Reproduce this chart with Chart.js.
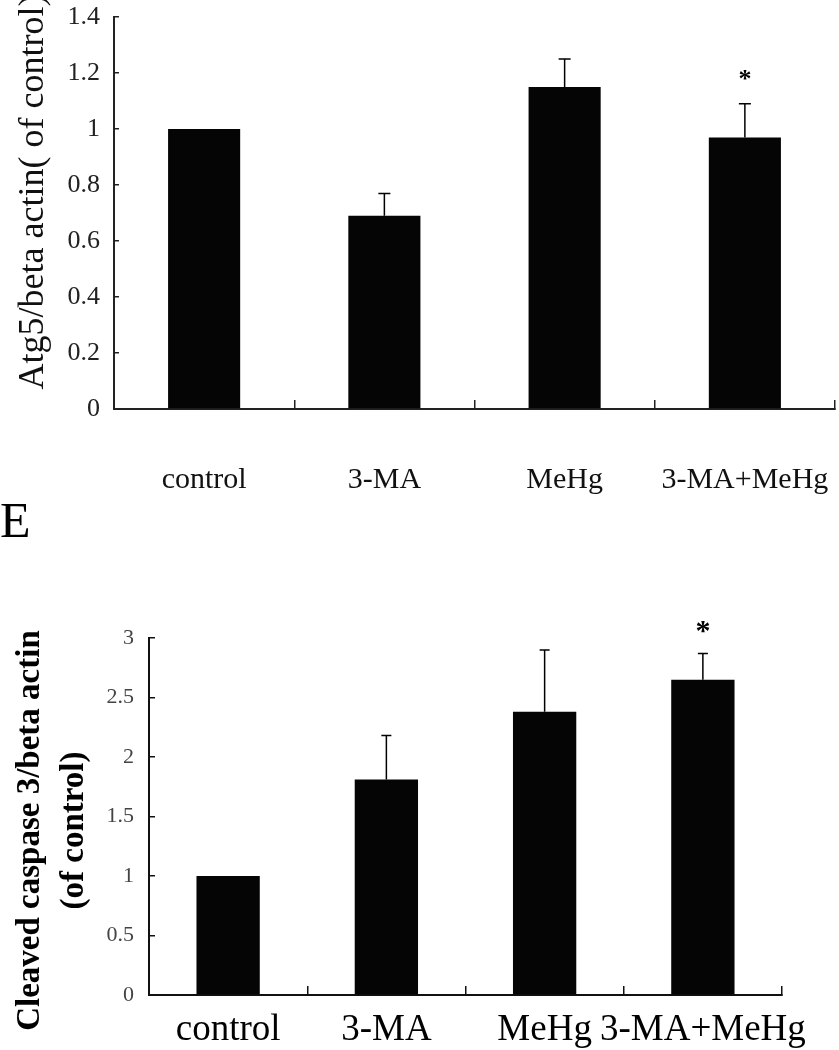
<!DOCTYPE html>
<html>
<head>
<meta charset="utf-8">
<script src="https://cdn.jsdelivr.net/npm/chart.js"></script>
<style>
    body { margin: 0; background: #fff; }
    canvas { position: absolute; left: 0; }
</style>
</head>
<body>
<canvas id="atg5" width="839" height="520" style="top: 0px;"></canvas>
<canvas id="casp3" width="839" height="560" style="top: 490px;"></canvas>
<script>
const groups = ['control', '3-MA', 'MeHg', '3-MA+MeHg'];

// Atg5 / beta actin
const atg5Mean = [1.0, 0.69, 1.15, 0.97];
const atg5Err = [0, 0.08, 0.10, 0.12];
const atg5Sig = ['', '', '', '*'];
const atg5Ticks = ['0', '0.2', '0.4', '0.6', '0.8', '1', '1.2', '1.4'];

// cleaved caspase 3 / beta actin
const casp3Mean = [1.0, 1.81, 2.38, 2.65];
const casp3Err = [0, 0.37, 0.52, 0.22];
const casp3Sig = ['', '', '', '*'];
const casp3Ticks = ['0', '0.5', '1', '1.5', '2', '2.5', '3'];

const serif = "'Liberation Serif', 'Times New Roman', serif";

// upward error bars + significance marks
const errorBars = {
    id: 'errorBars',
    afterDatasetsDraw(chart, args, opts) {
        const ctx = chart.ctx;
        const y = chart.scales.y;
        const values = chart.data.datasets[0].data;
        ctx.save();
        ctx.strokeStyle = '#000';
        ctx.fillStyle = '#000';
        ctx.lineWidth = opts.width;
        chart.getDatasetMeta(0).data.forEach((bar, i) => {
            let top = y.getPixelForValue(values[i]);
            if (opts.errors[i]) {
                top = y.getPixelForValue(values[i] + opts.errors[i]);
                ctx.beginPath();
                ctx.moveTo(bar.x, bar.y);
                ctx.lineTo(bar.x, top);
                ctx.moveTo(bar.x - opts.cap, top);
                ctx.lineTo(bar.x + opts.cap, top);
                ctx.stroke();
            }
            if (opts.marks[i]) {
                ctx.font = opts.font;
                ctx.textAlign = 'center';
                ctx.textBaseline = 'alphabetic';
                ctx.fillText(opts.marks[i], bar.x, top - opts.gap);
            }
        });
        ctx.restore();
    }
};

// rotated y title, allowed to run past the plot height
const sideTitle = {
    id: 'sideTitle',
    afterDraw(chart, args, opts) {
        const ctx = chart.ctx;
        const area = chart.chartArea;
        ctx.save();
        ctx.fillStyle = opts.color;
        ctx.font = opts.font;
        ctx.textAlign = 'center';
        ctx.textBaseline = 'middle';
        opts.lines.forEach((line, i) => {
            ctx.save();
            ctx.translate(opts.x + i * opts.gap, (area.top + area.bottom) / 2 - opts.shift);
            ctx.rotate(-Math.PI / 2);
            ctx.fillText(line, 0, 0);
            ctx.restore();
        });
        ctx.restore();
    }
};

function noScalePadding(s) {
    s.paddingTop = 0;
    s.paddingBottom = 0;
    s.paddingLeft = 0;
    s.paddingRight = 0;
}

new Chart(document.getElementById('atg5'), {
    type: 'bar',
    data: {
        labels: groups,
        datasets: [{
            data: atg5Mean,
            backgroundColor: '#050505',
            barPercentage: 0.4,
            categoryPercentage: 1
        }]
    },
    plugins: [errorBars, sideTitle],
    options: {
        responsive: false,
        animation: false,
        layout: { padding: { left: 0, right: 4, top: 17, bottom: 0 } },
        plugins: {
            legend: { display: false },
            tooltip: { enabled: false },
            errorBars: { errors: atg5Err, marks: atg5Sig, width: 1.5, cap: 6, gap: 17, font: 'bold 26px ' + serif },
            sideTitle: { lines: ['Atg5/beta actin( of control)'], x: 34, gap: 0, shift: 21, color: '#111', font: '36px ' + serif }
        },
        scales: {
            x: {
                grid: { drawOnChartArea: false, tickLength: -9, color: '#222', lineWidth: 1.5 },
                border: { color: '#222', width: 2 },
                ticks: { padding: 62, color: '#111', maxRotation: 0, minRotation: 0, autoSkip: false, font: { family: serif, size: 30 } },
                afterFit(s) { s.height = 111; noScalePadding(s); }
            },
            y: {
                min: 0,
                max: 1.4,
                grid: { drawOnChartArea: false, tickLength: -5, color: '#222', lineWidth: 1.5 },
                border: { color: '#222', width: 2 },
                ticks: {
                    stepSize: 0.2, padding: 19, color: '#222', font: { family: serif, size: 26 },
                    callback: (v, i) => atg5Ticks[i]
                },
                afterFit(s) { s.width = 114; noScalePadding(s); }
            }
        }
    }
});

new Chart(document.getElementById('casp3'), {
    type: 'bar',
    data: {
        labels: groups,
        datasets: [{
            data: casp3Mean,
            backgroundColor: '#050505',
            barPercentage: 0.4,
            categoryPercentage: 1
        }]
    },
    plugins: [errorBars, sideTitle],
    options: {
        responsive: false,
        animation: false,
        layout: { padding: { left: 0, right: 57, top: 0, bottom: 0 } },
        plugins: {
            legend: { display: false },
            tooltip: { enabled: false },
            title: {
                display: true,
                text: 'E',
                align: 'start',
                color: '#000',
                font: { family: serif, size: 50, weight: 'normal' },
                padding: { top: 4, bottom: 84 }
            },
            errorBars: { errors: casp3Err, marks: casp3Sig, width: 1.5, cap: 5, gap: 13, font: 'bold 30px ' + serif },
            sideTitle: {
                lines: ['Cleaved caspase 3/beta actin', '(of control)'],
                x: 30, gap: 44, shift: -14, color: '#000', font: 'bold 33px ' + serif
            }
        },
        scales: {
            x: {
                grid: { drawOnChartArea: false, tickLength: -9, color: '#111', lineWidth: 1.5 },
                border: { color: '#111', width: 2 },
                ticks: { padding: 22, color: '#000', maxRotation: 0, minRotation: 0, autoSkip: false, font: { family: serif, size: 37 } },
                afterFit(s) { s.height = 55; noScalePadding(s); }
            },
            y: {
                min: 0,
                max: 3,
                grid: { drawOnChartArea: false, tickLength: -6, color: '#111', lineWidth: 1.5 },
                border: { color: '#111', width: 2 },
                ticks: {
                    stepSize: 0.5, padding: 21, color: '#444', font: { family: serif, size: 22 },
                    callback: (v, i) => casp3Ticks[i]
                },
                afterFit(s) { s.width = 149; noScalePadding(s); }
            }
        }
    }
});
</script>
</body>
</html>
